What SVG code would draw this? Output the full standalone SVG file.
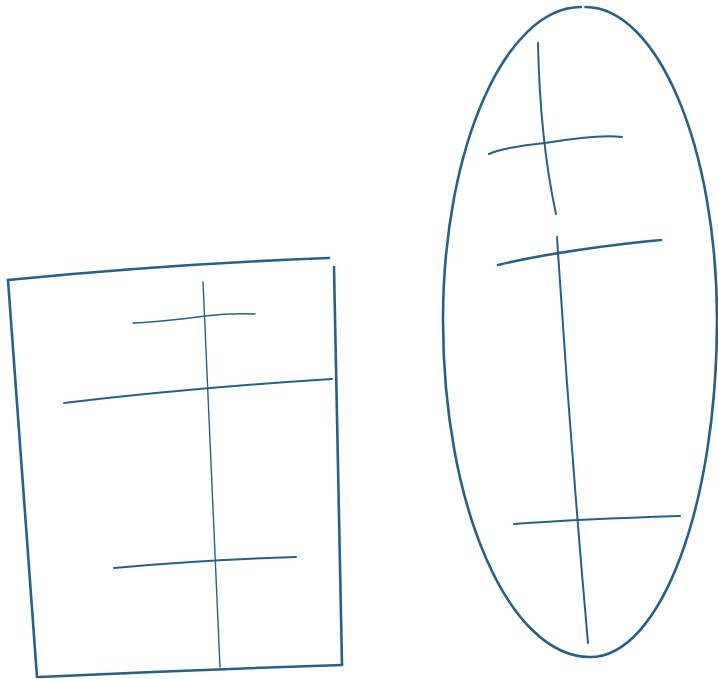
<svg xmlns="http://www.w3.org/2000/svg" width="718" height="679" viewBox="0 0 718 679">
<style>
.s{fill:none;stroke:#23618f;stroke-linecap:round;stroke-linejoin:round}
.thick{stroke-width:2.6}
.mid{stroke-width:2}
.thin{stroke-width:1.4}
</style>
<rect width="718" height="679" fill="#ffffff"/>
<g id="rectangle-shape">
<path class="s thick" d="M8 280 Q170 264 329 258"/>
<path class="s thick" d="M8 280 L37 677"/>
<path class="s thick" d="M334 267 L342 665"/>
<path class="s thick" d="M39 677 Q190 670 342 665"/>
<path class="s thin" d="M203 282 L220 667"/>
<path class="s thin" d="M133 323 Q160 322 205 316 Q230 313 255 314"/>
<path class="s mid" d="M64 403 Q190 388 332 379"/>
<path class="s mid" d="M114 568 Q200 560 296 557"/>
</g>
<g id="ellipse-shape">
<path class="s thick" d="M585.5 7.05 C657.6 7.4 717 147.1 717 320 C717 506.1 660.7 657 590 657 C508.8 657 443 506.1 443 320 C443 147.1 505.7 7 581 7.05"/>
<path class="s mid" d="M538 43 Q540 140 556 214"/>
<path class="s mid" d="M489 154 Q500 148 545 143 Q600 134 622 137"/>
<path class="s thick" d="M498 265 Q560 250 661 240"/>
<path class="s mid" d="M557 237 Q570 440 588 643"/>
<path class="s mid" d="M514 524 Q580 519 680 516"/>
</g>
<g id="connectors"></g>
</svg>
